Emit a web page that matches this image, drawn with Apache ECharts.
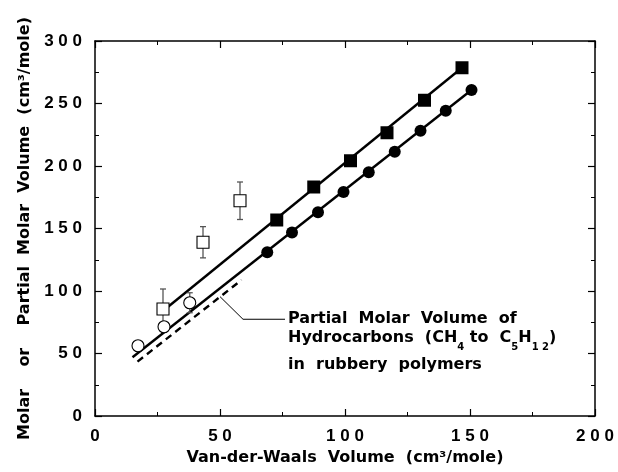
<!DOCTYPE html>
<html><head><meta charset="utf-8">
<script src="https://cdn.jsdelivr.net/npm/echarts@6/dist/echarts.min.js"></script>
<style>html,body{margin:0;padding:0;background:#fff}#c{width:618px;height:472px}</style>
</head><body><div id="c"></div>
<script>
// Filled squares (molar volume, liquids)
const sqFilledX = [72.7, 87.5, 102.2, 116.8, 131.8, 146.8];
const sqFilledY = [156.8, 183.2, 204.2, 226.6, 252.6, 278.6];
// Filled circles (partial molar volume, liquids)
const ciFilledX = [68.9, 78.8, 89.2, 99.4, 109.5, 119.9, 130.2, 140.3, 150.6];
const ciFilledY = [131, 146.8, 163, 179.2, 195, 211.4, 228.2, 244.2, 260.8];
// Open squares with error bars
const sqOpenX = [27.2, 43.2, 58.0];
const sqOpenY = [85.6, 139, 172.2];
const sqOpenErr = [16, 12.5, 15];
// Open circles
const ciOpenX = [17.2, 27.6, 37.9];
const ciOpenY = [56.2, 71.4, 90.6];
const ciOpenErr = [0, 0, 8];
// Fit lines
const upperLine = [[29, 87], [146.8, 278.6]];
const lowerLine = [[15, 47], [150.6, 260.8]];
const dashedLine = [[17, 43.5], [58.6, 108.8]];
const leaderLine = [[50, 95.5], [59.2, 77.4], [76, 77.4]];
const xTicks = [0, 50, 100, 150, 200];
const yTicks = [0, 50, 100, 150, 200, 250, 300];

const zip = (xs, ys) => xs.map((x, i) => [x, ys[i]]);
const spaced = v => String(v).split('').join(' ');
const FONT = '"Liberation Sans", Arial, sans-serif';
const TFONT = '"DejaVu Sans", sans-serif';

const errData = [
  ...sqOpenX.map((x, i) => [x, sqOpenY[i] - sqOpenErr[i], sqOpenY[i] + sqOpenErr[i]]),
  ...ciOpenX.map((x, i) => [x, ciOpenY[i] - ciOpenErr[i], ciOpenY[i] + ciOpenErr[i]]).filter((d, i) => ciOpenErr[i] > 0)
];

const chart = echarts.init(document.getElementById('c'), null, {renderer: 'canvas'});
const axisCommon = () => ({
  axisLine: {show: true, onZero: false, lineStyle: {color: '#000', width: 1.5}},
  axisTick: {show: true, inside: true, length: 7, lineStyle: {color: '#000', width: 1.2}},
  minorTick: {show: true, splitNumber: 2, length: 4, lineStyle: {color: '#000', width: 1}},
  splitLine: {show: false}
});
const tickLabel = (margin) => ({formatter: spaced, color: '#000', fontFamily: FONT, fontWeight: 'bold', fontSize: 17, margin: margin});
const titleStyle = {color: '#000', fontFamily: TFONT, fontWeight: 'bold', fontSize: 16};

chart.setOption({
  animation: false,
  backgroundColor: '#fff',
  grid: {left: 95, right: 23, top: 41, bottom: 56},
  xAxis: [
    Object.assign({type: 'value', min: 0, max: 200, interval: 50, position: 'bottom',
      axisLabel: tickLabel(12),
      name: 'Van-der-Waals  Volume  (cm³/mole)', nameLocation: 'middle', nameGap: 33,
      nameTextStyle: titleStyle}, axisCommon()),
    Object.assign({type: 'value', min: 0, max: 200, interval: 50, position: 'top', axisLabel: {show: false}}, axisCommon())
  ],
  yAxis: [
    Object.assign({type: 'value', min: 0, max: 300, interval: 50, position: 'left',
      axisLabel: tickLabel(13),
      name: 'Molar    or    Partial  Molar  Volume  (cm³/mole)', nameLocation: 'middle', nameGap: 61,
      nameTextStyle: titleStyle}, axisCommon()),
    Object.assign({type: 'value', min: 0, max: 300, interval: 50, position: 'right', axisLabel: {show: false}}, axisCommon())
  ],
  series: [
    {type: 'line', data: upperLine, symbol: 'none', lineStyle: {color: '#000', width: 2.4}, z: 2},
    {type: 'line', data: lowerLine, symbol: 'none', lineStyle: {color: '#000', width: 2.4}, z: 2},
    {type: 'line', data: dashedLine, symbol: 'none', lineStyle: {color: '#000', width: 2.4, type: [7, 5]}, z: 2},
    {type: 'line', data: leaderLine, symbol: 'none', lineStyle: {color: '#000', width: 1}, z: 2},
    {type: 'custom', data: errData, z: 3,
      renderItem: function (params, api) {
        const top = api.coord([api.value(0), api.value(2)]);
        const bot = api.coord([api.value(0), api.value(1)]);
        const w = 3;
        const st = {stroke: '#555', lineWidth: 1.3};
        return {type: 'group', children: [
          {type: 'line', shape: {x1: top[0], y1: top[1], x2: bot[0], y2: bot[1]}, style: st},
          {type: 'line', shape: {x1: top[0] - w, y1: top[1], x2: top[0] + w, y2: top[1]}, style: st},
          {type: 'line', shape: {x1: bot[0] - w, y1: bot[1], x2: bot[0] + w, y2: bot[1]}, style: st}
        ]};
      }},
    {type: 'scatter', data: zip(sqOpenX, sqOpenY), symbol: 'rect', symbolSize: 12, z: 4,
      itemStyle: {color: '#fff', borderColor: '#000', borderWidth: 1.1, opacity: 1}},
    {type: 'scatter', data: zip(ciOpenX, ciOpenY), symbol: 'circle', symbolSize: 12, z: 4,
      itemStyle: {color: '#fff', borderColor: '#000', borderWidth: 1.1, opacity: 1}},
    {type: 'scatter', data: zip(sqFilledX, sqFilledY), symbol: 'rect', symbolSize: 13, z: 5,
      itemStyle: {color: '#000', opacity: 1}},
    {type: 'scatter', data: zip(ciFilledX, ciFilledY), symbol: 'circle', symbolSize: 12, z: 5,
      itemStyle: {color: '#000', opacity: 1}}
  ],
  graphic: [
    {type: 'text', left: 288, top: 311, z: 10,
      style: {text: 'Partial  Molar  Volume  of', fontFamily: TFONT, fontWeight: 'bold', fontSize: 16, fill: '#000'}},
    {type: 'text', left: 288, top: 330, z: 10,
      style: {
        text: '{a|Hydrocarbons  (CH}{s|4}{a| to  C}{s|5}{a|H}{s|1 2}{a|)}',
        rich: {
          a: {fontFamily: TFONT, fontWeight: 'bold', fontSize: 16, fill: '#000', lineHeight: 20, verticalAlign: 'top'},
          s: {fontFamily: TFONT, fontWeight: 'bold', fontSize: 10, fill: '#000', lineHeight: 20, verticalAlign: 'top', padding: [12, 0, 0, 0]}
        }
      }},
    {type: 'text', left: 288, top: 357, z: 10,
      style: {text: 'in  rubbery  polymers', fontFamily: TFONT, fontWeight: 'bold', fontSize: 16, fill: '#000'}}
  ]
});
</script></body></html>
